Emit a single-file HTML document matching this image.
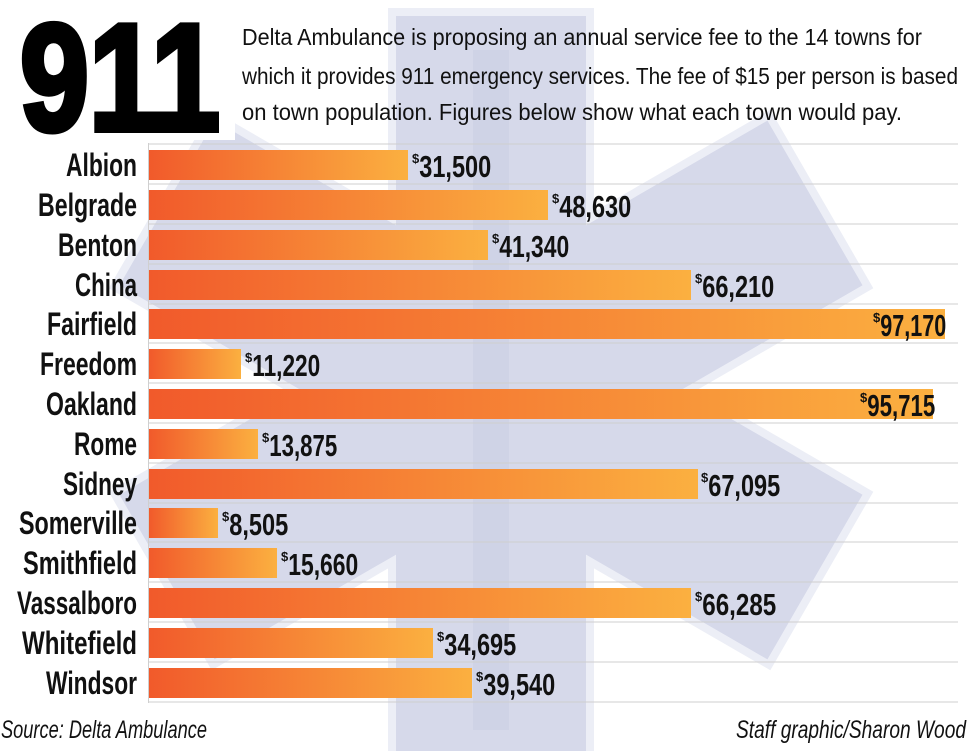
<!DOCTYPE html>
<html><head><meta charset="utf-8"><style>
html,body{margin:0;padding:0;background:#fff;}
svg{display:block}
text{font-family:"Liberation Sans Narrow","Liberation Sans",sans-serif;}
</style></head><body>
<svg width="972" height="751" viewBox="0 0 972 751" xmlns="http://www.w3.org/2000/svg">
<defs>
<linearGradient id="g" x1="0" y1="0" x2="1" y2="0">
<stop offset="0" stop-color="#f15a2b"/><stop offset="1" stop-color="#fbb040"/>
</linearGradient>
</defs>
<g transform="translate(491,390)">
<g fill="#d6d9ea" stroke="#eceef6" stroke-width="8">
<rect x="-99" y="-378" width="198" height="756"/>
<rect x="-99" y="-378" width="198" height="756" transform="rotate(60)"/>
<rect x="-99" y="-378" width="198" height="756" transform="rotate(-60)"/>
</g>
<rect x="-95" y="-374" width="190" height="748" fill="#d6d9ea"/>
<rect x="-95" y="-374" width="190" height="748" fill="#d6d9ea" transform="rotate(60)"/>
<rect x="-95" y="-374" width="190" height="748" fill="#d6d9ea" transform="rotate(-60)"/>
<rect x="-18" y="-340" width="36" height="680" fill="#cfd3e6"/>
</g>
<rect x="0" y="0" width="235" height="140" fill="#fff"/>
<text x="20" y="130" font-size="152" font-weight="bold" fill="#000" stroke="#000" stroke-width="6" textLength="200" lengthAdjust="spacingAndGlyphs" style="font-family:'Liberation Sans',sans-serif">911</text>
<g font-size="23" fill="#111">
<text x="242" y="45" textLength="680" lengthAdjust="spacingAndGlyphs">Delta Ambulance is proposing an annual service fee to the 14 towns for</text>
<text x="242" y="84" textLength="716" lengthAdjust="spacingAndGlyphs">which it provides 911 emergency services. The fee of $15 per person is based</text>
<text x="242" y="120" textLength="660" lengthAdjust="spacingAndGlyphs">on town population. Figures below show what each town would pay.</text>
</g>
<g stroke="#cfcfcf" stroke-width="1">
<line x1="148.5" y1="143" x2="148.5" y2="703"/>
<line x1="148" y1="144" x2="958" y2="144"/><line x1="148" y1="184" x2="958" y2="184"/>
<line x1="148" y1="224" x2="958" y2="224"/><line x1="148" y1="264" x2="958" y2="264"/>
<line x1="148" y1="304" x2="958" y2="304"/><line x1="148" y1="343" x2="958" y2="343"/>
<line x1="148" y1="383" x2="958" y2="383"/><line x1="148" y1="423" x2="958" y2="423"/>
<line x1="148" y1="463" x2="958" y2="463"/><line x1="148" y1="503" x2="958" y2="503"/>
<line x1="148" y1="542" x2="958" y2="542"/><line x1="148" y1="582" x2="958" y2="582"/>
<line x1="148" y1="622" x2="958" y2="622"/><line x1="148" y1="662" x2="958" y2="662"/>
<line x1="148" y1="702" x2="958" y2="702"/>
</g>
<g fill="url(#g)">
<rect x="149" y="150" width="259" height="30"/>
<rect x="149" y="190" width="399" height="30"/>
<rect x="149" y="230" width="339" height="30"/>
<rect x="149" y="270" width="542" height="30"/>
<rect x="149" y="309" width="796" height="30"/>
<rect x="149" y="349" width="92" height="30"/>
<rect x="149" y="389" width="784" height="30"/>
<rect x="149" y="429" width="109" height="30"/>
<rect x="149" y="469" width="549" height="30"/>
<rect x="149" y="508" width="69" height="30"/>
<rect x="149" y="548" width="128" height="30"/>
<rect x="149" y="588" width="542" height="30"/>
<rect x="149" y="628" width="284" height="30"/>
<rect x="149" y="668" width="323" height="30"/>
</g>
<g font-size="32" font-weight="bold" fill="#111" text-anchor="end">
<text x="137" y="176" textLength="71" lengthAdjust="spacingAndGlyphs">Albion</text>
<text x="137" y="216" textLength="99" lengthAdjust="spacingAndGlyphs">Belgrade</text>
<text x="137" y="256" textLength="79" lengthAdjust="spacingAndGlyphs">Benton</text>
<text x="137" y="296" textLength="62" lengthAdjust="spacingAndGlyphs">China</text>
<text x="137" y="335" textLength="90" lengthAdjust="spacingAndGlyphs">Fairfield</text>
<text x="137" y="375" textLength="97" lengthAdjust="spacingAndGlyphs">Freedom</text>
<text x="137" y="415" textLength="91" lengthAdjust="spacingAndGlyphs">Oakland</text>
<text x="137" y="455" textLength="63" lengthAdjust="spacingAndGlyphs">Rome</text>
<text x="137" y="495" textLength="74" lengthAdjust="spacingAndGlyphs">Sidney</text>
<text x="137" y="534" textLength="118" lengthAdjust="spacingAndGlyphs">Somerville</text>
<text x="137" y="574" textLength="114" lengthAdjust="spacingAndGlyphs">Smithfield</text>
<text x="137" y="614" textLength="120" lengthAdjust="spacingAndGlyphs">Vassalboro</text>
<text x="137" y="654" textLength="115" lengthAdjust="spacingAndGlyphs">Whitefield</text>
<text x="137" y="694" textLength="91" lengthAdjust="spacingAndGlyphs">Windsor</text>
</g>
<g font-size="31" font-weight="bold" fill="#111">
<text x="412" y="177"><tspan font-size="13" dy="-14">$</tspan><tspan dy="14" textLength="72" lengthAdjust="spacingAndGlyphs">31,500</tspan></text>
<text x="552" y="217"><tspan font-size="13" dy="-14">$</tspan><tspan dy="14" textLength="72" lengthAdjust="spacingAndGlyphs">48,630</tspan></text>
<text x="492" y="257"><tspan font-size="13" dy="-14">$</tspan><tspan dy="14" textLength="70" lengthAdjust="spacingAndGlyphs">41,340</tspan></text>
<text x="695" y="297"><tspan font-size="13" dy="-14">$</tspan><tspan dy="14" textLength="72" lengthAdjust="spacingAndGlyphs">66,210</tspan></text>
<text x="873" y="336"><tspan font-size="13" dy="-14">$</tspan><tspan dy="14" textLength="66" lengthAdjust="spacingAndGlyphs">97,170</tspan></text>
<text x="245" y="376"><tspan font-size="13" dy="-14">$</tspan><tspan dy="14" textLength="68" lengthAdjust="spacingAndGlyphs">11,220</tspan></text>
<text x="860" y="416"><tspan font-size="13" dy="-14">$</tspan><tspan dy="14" textLength="68" lengthAdjust="spacingAndGlyphs">95,715</tspan></text>
<text x="262" y="456"><tspan font-size="13" dy="-14">$</tspan><tspan dy="14" textLength="68" lengthAdjust="spacingAndGlyphs">13,875</tspan></text>
<text x="701" y="496"><tspan font-size="13" dy="-14">$</tspan><tspan dy="14" textLength="72" lengthAdjust="spacingAndGlyphs">67,095</tspan></text>
<text x="222" y="535"><tspan font-size="13" dy="-14">$</tspan><tspan dy="14" textLength="59" lengthAdjust="spacingAndGlyphs">8,505</tspan></text>
<text x="281" y="575"><tspan font-size="13" dy="-14">$</tspan><tspan dy="14" textLength="70" lengthAdjust="spacingAndGlyphs">15,660</tspan></text>
<text x="695" y="615"><tspan font-size="13" dy="-14">$</tspan><tspan dy="14" textLength="74" lengthAdjust="spacingAndGlyphs">66,285</tspan></text>
<text x="437" y="655"><tspan font-size="13" dy="-14">$</tspan><tspan dy="14" textLength="72" lengthAdjust="spacingAndGlyphs">34,695</tspan></text>
<text x="476" y="695"><tspan font-size="13" dy="-14">$</tspan><tspan dy="14" textLength="72" lengthAdjust="spacingAndGlyphs">39,540</tspan></text>
</g>
<g font-size="25" font-style="italic" fill="#111">
<text x="1" y="738" textLength="206" lengthAdjust="spacingAndGlyphs">Source: Delta Ambulance</text>
<text x="966" y="738" text-anchor="end" textLength="230" lengthAdjust="spacingAndGlyphs">Staff graphic/Sharon Wood</text>
</g>
</svg>
</body></html>
